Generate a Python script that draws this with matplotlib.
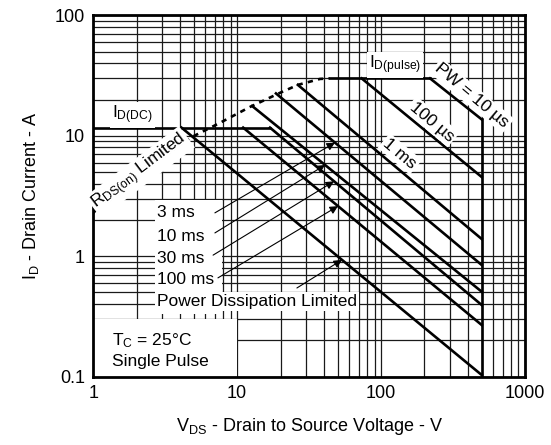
import numpy as np
import matplotlib.pyplot as plt
from matplotlib.ticker import LogLocator, NullFormatter, FixedLocator, FixedFormatter
from matplotlib.patches import Rectangle

plt.rcParams['font.family'] = ['Liberation Sans', 'DejaVu Sans']
plt.rcParams['mathtext.fontset'] = 'custom'
plt.rcParams['mathtext.rm'] = 'Liberation Sans'
plt.rcParams['mathtext.it'] = 'Liberation Sans'

# current limits (A) and max drain voltage (V)
id_dc = 11.7
id_pulse = 30.0
vds_max = 500.0

# RDS(on) limited boundary
rds_v = [1.0, 1.37, 2.91, 4.7, 7.57, 12.3, 19.9, 26.4, 37.6, 44.0]
rds_i = [2.29, 3.35, 5.96, 9.6, 12.8, 17.4, 22.8, 26.5, 29.7, 30.0]

# pulse width lines: start point and current at vds_max
pw_names = ['10 µs', '100 µs', '1 ms', '3 ms', '10 ms', '30 ms', '100 ms', 'DC']
pw_v0 = [219.0, 73.3, 26.4, 18.6, 12.7, 16.9, 11.0, 4.1]
pw_i0 = [30.0, 30.0, 26.5, 22.5, 17.7, 11.7, 11.7, 11.7]
pw_i1 = [13.7, 4.55, 1.39, 0.845, 0.507, 0.393, 0.268, 0.103]

# lower labels, each with a leader arrow to its line
lab_text = ['3 ms', '10 ms', '30 ms', '100 ms', 'Power Dissipation Limited']
lab_line = [3, 4, 5, 6, 7]
lab_i = [2.29, 1.45, 0.96, 0.643, 0.419]
tail_v = [7.0, 7.0, 6.8, 7.35, 26.0]
tail_i = [2.29, 1.56, 1.02, 0.66, 0.544]
head_v = [47.8, 40.8, 47.1, 50.2, 53.5]

x_ticks = [1, 10, 100, 1000]
y_ticks = [0.1, 1, 10, 100]


def on_line(k, v):
    # current on pulse line k at voltage v (straight in log-log)
    t = np.log(v / pw_v0[k]) / np.log(vds_max / pw_v0[k])
    return pw_i0[k] * (pw_i1[k] / pw_i0[k]) ** t


fig = plt.figure(figsize=(5.51, 4.45), dpi=100)
ax = fig.add_axes([0.1693, 0.1539, 0.7835, 0.8113])
ax.set_xscale('log')
ax.set_yscale('log')
ax.set_xlim(1, 1000)
ax.set_ylim(0.1, 100)

ax.xaxis.set_major_locator(FixedLocator(x_ticks))
ax.xaxis.set_major_formatter(FixedFormatter([str(t) for t in x_ticks]))
ax.yaxis.set_major_locator(FixedLocator(y_ticks))
ax.yaxis.set_major_formatter(FixedFormatter([str(t) for t in y_ticks]))
ax.xaxis.set_minor_locator(LogLocator(base=10, subs=np.arange(2, 10)))
ax.yaxis.set_minor_locator(LogLocator(base=10, subs=np.arange(2, 10)))
ax.xaxis.set_minor_formatter(NullFormatter())
ax.yaxis.set_minor_formatter(NullFormatter())
ax.tick_params(which='both', length=0, labelsize=13, pad=6)
ax.grid(True, which='both', color='#1a1a1a', lw=0.9)
ax.set_axisbelow(True)
for s in ax.spines.values():
    s.set_linewidth(2)

lw = 1.9
# DC and pulse current ceilings
ax.plot([1, pw_v0[5]], [id_dc, id_dc], color='k', lw=lw, zorder=3)
ax.plot([rds_v[-1], pw_v0[0]], [id_pulse, id_pulse], color='k', lw=lw, zorder=3)
# RDS(on) limit
ax.plot(rds_v, rds_i, color='k', lw=lw, ls=(0, (2, 2)), zorder=3)
# constant power lines
for v0, i0, i1 in zip(pw_v0, pw_i0, pw_i1):
    ax.plot([v0, vds_max], [i0, i1], color='k', lw=lw, zorder=3)
# voltage limit
ax.plot([vds_max, vds_max], [0.1, pw_i1[0]], color='k', lw=lw, zorder=3)

white = dict(fc='white', ec='none', pad=1.5)
ax.add_patch(Rectangle((1, 0.1), 9, 0.2, fc='white', ec='none', zorder=2))
ax.add_patch(Rectangle((2.7, 0.33), 5.2, 2.6, fc='white', ec='none', zorder=2))

fs = 12.5
ax.text(1.86, 14.9, r'$\mathregular{I_{D(DC)}}$', fontsize=fs, ha='center', va='center',
        bbox=white, zorder=4)
ax.text(125, 38.8, r'$\mathregular{I_{D(pulse)}}$', fontsize=fs, ha='center', va='center',
        bbox=white, zorder=4)
ax.text(428, 21.5, 'PW = 10 µs', fontsize=fs, rotation=-40, ha='center', va='center',
        bbox=white, zorder=4)
ax.text(226, 13.1, '100 µs', fontsize=fs, rotation=-40, ha='center', va='center',
        bbox=white, zorder=4)
ax.text(135, 7.08, '1 ms', fontsize=fs, rotation=-40, ha='center', va='center',
        bbox=white, zorder=4)
ax.text(2.11, 5.0, r'$\mathregular{R_{DS(on)}}$ Limited', fontsize=fs, rotation=37,
        ha='center', va='center', bbox=white, zorder=4)

for name, yi in zip(lab_text, lab_i):
    ax.text(2.78, yi, name, fontsize=fs, ha='left', va='center', bbox=white, zorder=4)
for k, tv, ti, hv in zip(lab_line, tail_v, tail_i, head_v):
    ax.annotate('', xy=(hv, on_line(k, hv)), xytext=(tv, ti),
                arrowprops=dict(arrowstyle='-|>', lw=0.8, color='k', mutation_scale=12,
                                shrinkA=0, shrinkB=0), zorder=4)

ax.text(1.35, 0.2, r'$\mathregular{T_C}$ = 25°C', fontsize=fs, ha='left', va='center', zorder=4)
ax.text(1.35, 0.133, 'Single Pulse', fontsize=fs, ha='left', va='center', zorder=4)

ax.set_xlabel(r'$\mathregular{V_{DS}}$ - Drain to Source Voltage - V', fontsize=13, labelpad=10)
ax.set_ylabel(r'$\mathregular{I_{D}}$ - Drain Current - A', fontsize=13, labelpad=10)

fig.savefig('out.png', dpi=100)
